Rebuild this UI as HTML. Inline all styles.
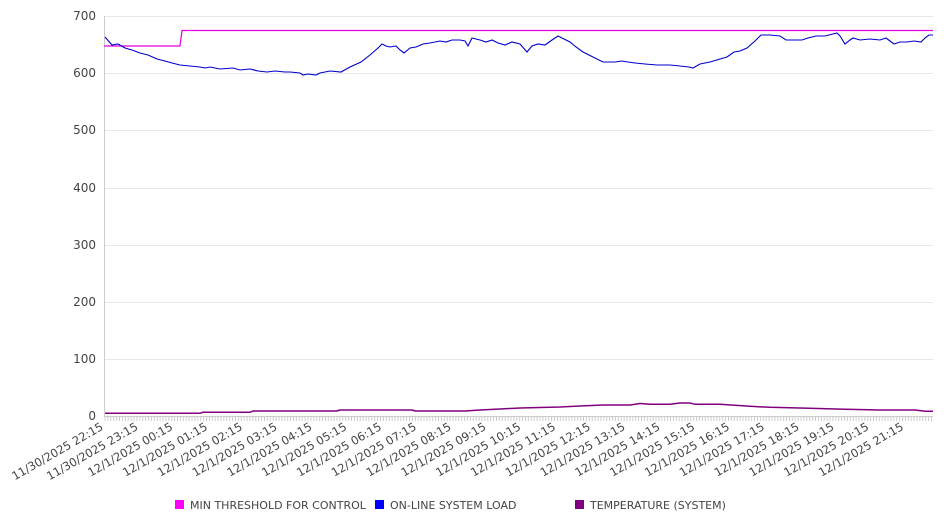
<!DOCTYPE html>
<html><head><meta charset="utf-8"><style>body{margin:0;background:#fff}svg{display:block;font-family:"DejaVu Sans","Liberation Sans",sans-serif}</style></head>
<body>
<svg width="946" height="526" xmlns="http://www.w3.org/2000/svg">
<g stroke="#e8e8e8" stroke-width="1">
<line x1="104" y1="16.5" x2="933" y2="16.5"/><line x1="104" y1="73.5" x2="933" y2="73.5"/><line x1="104" y1="130.5" x2="933" y2="130.5"/><line x1="104" y1="188.5" x2="933" y2="188.5"/><line x1="104" y1="245.5" x2="933" y2="245.5"/><line x1="104" y1="302.5" x2="933" y2="302.5"/><line x1="104" y1="359.5" x2="933" y2="359.5"/>
</g>
<line x1="104.5" y1="16" x2="104.5" y2="417" stroke="#ccc"/>
<line x1="104" y1="416.5" x2="933" y2="416.5" stroke="#ccc"/>
<g id="ticks" stroke="#ccc"></g>
<g font-size="12" fill="#444" text-anchor="end">
<text x="96" y="20">700</text><text x="96" y="77">600</text><text x="96" y="134">500</text><text x="96" y="192">400</text><text x="96" y="249">300</text><text x="96" y="306">200</text><text x="96" y="363">100</text><text x="96" y="420">0</text>
</g>
<g id="xl" font-size="11.5" fill="#444" text-anchor="end"></g>
<polyline fill="none" stroke="#e000e0" stroke-width="1.2" points="104,46 180,46 182,30.5 933,30.5"/>
<polyline fill="none" stroke="#0000cc" stroke-width="1.1" points="105,37 112,45 118,44 125,48 132,50 140,53 148,55 157,59 165,61 172,63 180,65 190,66 200,67 205,68 210,67 220,69 233,68 240,70 250,69 258,71 267,72 275,71 285,72 290,72 300,73 303,75 308,74 316,75 320,73 330,71 341,72 350,67 361,62 370,55 378,48 382,44 386,46 390,47 396,46 400,50 404,53 410,48 416,47 423,44 430,43 440,41 446,42 452,40 460,40 465,41 468,46 472,38 480,40 486,42 492,40 498,43 505,45 512,42 520,44 527,52 532,46 538,44 545,45 552,40 558,36 564,39 570,42 576,47 583,52 593,57 603,62 615,62 622,61 628,62 635,63 645,64 657,65 670,65 680,66 689,67 693,68 700,64 710,62 720,59 727,57 734,52 740,51 747,48 755,41 761,35 770,35 780,36 786,40 795,40 802,40 808,38 816,36 825,36 837,33 840,36 845,44 850,40 853,38 860,40 870,39 880,40 886,38 894,44 900,42 907,42 914,41 921,42 925,38 929,35 933,35"/>
<polyline fill="none" stroke="#800080" stroke-width="1.5" points="105,413.3 200,413.3 203,412.3 250,412.3 253,411 337,411 340,410 412,410 415,411 465,411 480,410 500,409 520,408 560,407 580,406 603,405 630,405 640,403.5 650,404.3 670,404.3 680,403 690,403 695,404.3 720,404.3 735,405.3 750,406.3 770,407.3 800,408 845,409.3 880,410 915,410 925,411.3 933,411.3"/>
<rect x="175" y="500" width="9" height="9" fill="#ff00ff"/><text x="190" y="509" font-size="11" fill="#444">MIN THRESHOLD FOR CONTROL</text>
<rect x="375" y="500" width="9" height="9" fill="#0000ff"/><text x="390" y="509" font-size="11" fill="#444">ON-LINE SYSTEM LOAD</text>
<rect x="575" y="500" width="9" height="9" fill="#800080"/><text x="590" y="509" font-size="11" fill="#444">TEMPERATURE (SYSTEM)</text>
</svg>
<script>
var t=document.getElementById('ticks'),s='';
for(var x=105;x<=933;x+=2.9){s+='<line x1="'+x.toFixed(1)+'" y1="417" x2="'+x.toFixed(1)+'" y2="421"/>';}
t.innerHTML=s;
var l=document.getElementById('xl'),h='';
var labs=['11/30/2025 22:15','11/30/2025 23:15'];
for(var i=0;i<22;i++){labs.push('12/1/2025 '+String(i).padStart(2,'0')+':15');}
for(var i=0;i<labs.length;i++){var x=(104+i*34.8).toFixed(1);h+='<text x="'+x+'" y="429" transform="rotate(-30 '+x+' 429)">'+labs[i]+'</text>';}
l.innerHTML=h;
</script>
</body></html>
